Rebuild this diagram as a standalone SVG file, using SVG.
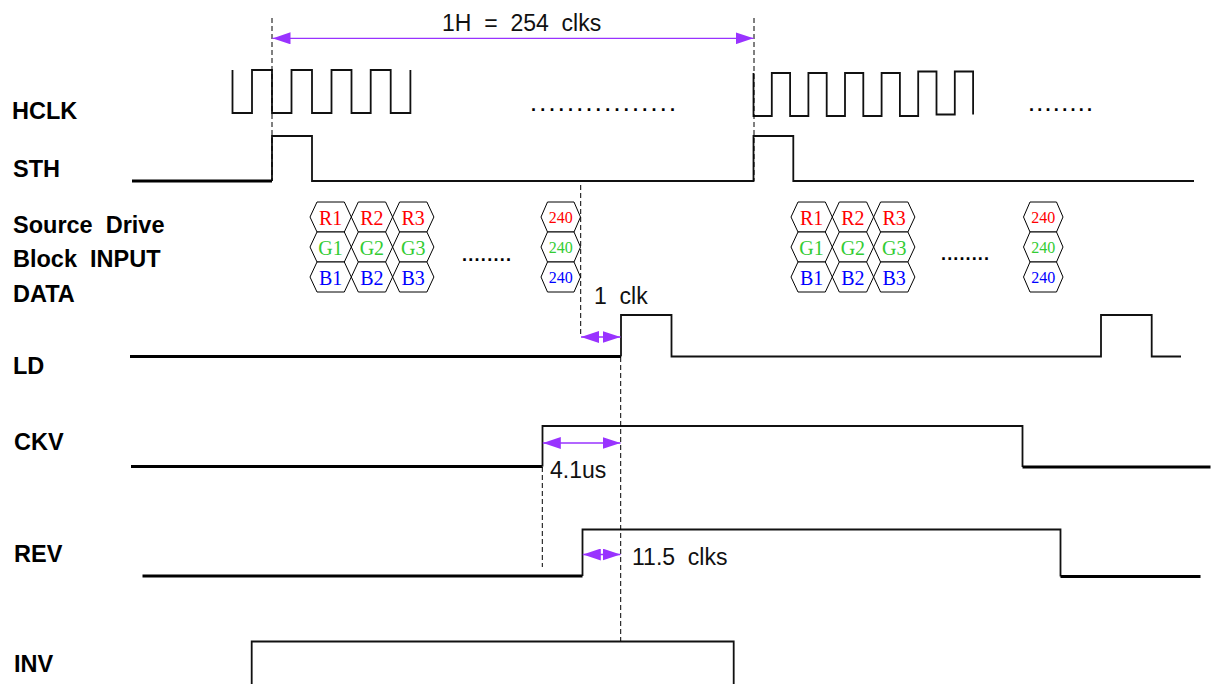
<svg xmlns="http://www.w3.org/2000/svg" width="1214" height="684" viewBox="0 0 1214 684">
<defs>
<style>
.lbl{font-family:"Liberation Sans",Arial,sans-serif;font-weight:bold;font-size:23.5px;fill:#000}
.ann{font-family:"Liberation Sans",Arial,sans-serif;font-size:23px;fill:#111}
.dots{font-family:"Liberation Sans",Arial,sans-serif;font-weight:bold;font-size:18px;fill:#000}
.w{fill:none;stroke:#111;stroke-width:1.8;stroke-linejoin:miter}
.wt{fill:none;stroke:#000;stroke-width:2.8}
.dash{fill:none;stroke:#000;stroke-width:1;stroke-dasharray:5 3}
.arr{fill:none;stroke:#9933ff;stroke-width:1.3;marker-start:url(#ah);marker-end:url(#ah)}
.hex{fill:#fff;stroke:#000;stroke-width:1}
.ht{font-family:"Liberation Serif","Times New Roman",serif;font-size:20px;text-anchor:middle}
.hs{font-family:"Liberation Serif","Times New Roman",serif;font-size:16px;text-anchor:middle}
.r{fill:#ff0000}.g{fill:#33cc33}.b{fill:#0000ff}
</style>
<marker id="ah" viewBox="0 0 18 12" refX="18" refY="6" markerWidth="18" markerHeight="12" markerUnits="userSpaceOnUse" orient="auto-start-reverse">
<path d="M0,0 L18,6 L0,12 z" fill="#9933ff"/>
</marker>
<polygon id="hx" points="0,15 7,0 34.3,0 41.3,15 34.3,30 7,30"/>
<polygon id="hxs" points="0,15 6.5,0 33,0 39.5,15 33,30 6.5,30"/>
</defs>

<g id="labels">
<text class="lbl" x="12" y="119">HCLK</text>
<text class="lbl" x="13" y="177">STH</text>
<text class="lbl" x="13" y="233" xml:space="preserve">Source  Drive</text>
<text class="lbl" x="13" y="267" xml:space="preserve">Block  INPUT</text>
<text class="lbl" x="13" y="302">DATA</text>
<text class="lbl" x="13" y="374">LD</text>
<text class="lbl" x="14" y="450">CKV</text>
<text class="lbl" x="14" y="562">REV</text>
<text class="lbl" x="14" y="672">INV</text>
</g>

<g id="hclk">
<path class="w" d="M232.5,70 V113 H252 V70 H272 V113 H291.5 V70 H312 V113 H331.5 V70 H351.5 V113 H370.7 V70 H390.7 V113 H410.4 V70"/>
<path class="w" d="M753.5,73 V116 H771.8 V73 H790.1 V116 H808.4 V73 H826.7 V116 H845 V73 H863.3 V116 H881.6 V73 H899.9 V116 H918.2 V71.5 H936.5 V114.5 H954.8 V71.5 H973.1 V114.5"/>
<text class="dots" x="531" y="110.5" textLength="144" lengthAdjust="spacing">................</text>
<text class="dots" x="1029" y="110.5" textLength="63" lengthAdjust="spacing">........</text>
</g>

<g id="sth">
<path class="wt" d="M132,181 H272"/>
<path class="w" d="M272,181 V136 H312 V181 H753.5 V136 H793.3 V181 H1194"/>
</g>

<g id="data1">
<use href="#hx" class="hex" x="310" y="202"/><use href="#hx" class="hex" x="351.3" y="202"/><use href="#hx" class="hex" x="392.6" y="202"/>
<use href="#hx" class="hex" x="310" y="232"/><use href="#hx" class="hex" x="351.3" y="232"/><use href="#hx" class="hex" x="392.6" y="232"/>
<use href="#hx" class="hex" x="310" y="262"/><use href="#hx" class="hex" x="351.3" y="262"/><use href="#hx" class="hex" x="392.6" y="262"/>
<text class="ht r" x="330.6" y="225">R1</text><text class="ht r" x="371.9" y="225">R2</text><text class="ht r" x="413.2" y="225">R3</text>
<text class="ht g" x="330.6" y="255">G1</text><text class="ht g" x="371.9" y="255">G2</text><text class="ht g" x="413.2" y="255">G3</text>
<text class="ht b" x="330.6" y="285">B1</text><text class="ht b" x="371.9" y="285">B2</text><text class="ht b" x="413.2" y="285">B3</text>
<text class="dots" x="462" y="261" textLength="49" lengthAdjust="spacing">........</text>
<use href="#hxs" class="hex" x="541" y="202"/><use href="#hxs" class="hex" x="541" y="232"/><use href="#hxs" class="hex" x="541" y="262"/>
<text class="hs r" x="560.7" y="222.5">240</text><text class="hs g" x="560.7" y="252.5">240</text><text class="hs b" x="560.7" y="282.5">240</text>
</g>

<g id="data2">
<use href="#hx" class="hex" x="791" y="202"/><use href="#hx" class="hex" x="832.3" y="202"/><use href="#hx" class="hex" x="873.6" y="202"/>
<use href="#hx" class="hex" x="791" y="232"/><use href="#hx" class="hex" x="832.3" y="232"/><use href="#hx" class="hex" x="873.6" y="232"/>
<use href="#hx" class="hex" x="791" y="262"/><use href="#hx" class="hex" x="832.3" y="262"/><use href="#hx" class="hex" x="873.6" y="262"/>
<text class="ht r" x="811.6" y="225">R1</text><text class="ht r" x="852.9" y="225">R2</text><text class="ht r" x="894.2" y="225">R3</text>
<text class="ht g" x="811.6" y="255">G1</text><text class="ht g" x="852.9" y="255">G2</text><text class="ht g" x="894.2" y="255">G3</text>
<text class="ht b" x="811.6" y="285">B1</text><text class="ht b" x="852.9" y="285">B2</text><text class="ht b" x="894.2" y="285">B3</text>
<text class="dots" x="941" y="260" textLength="48" lengthAdjust="spacing">........</text>
<use href="#hxs" class="hex" x="1023.5" y="202"/><use href="#hxs" class="hex" x="1023.5" y="232"/><use href="#hxs" class="hex" x="1023.5" y="262"/>
<text class="hs r" x="1043.2" y="222.5">240</text><text class="hs g" x="1043.2" y="252.5">240</text><text class="hs b" x="1043.2" y="282.5">240</text>
</g>

<g id="ld">
<path class="wt" d="M130,356.5 H621"/>
<path class="w" d="M621,356.5 V315 H671.5 V356.5 H1101 V315 H1151.7 V356.5 H1181"/>
</g>

<g id="ckv">
<path class="wt" d="M131,466.5 H542.5"/>
<path class="w" d="M542.5,466.5 V426 H1022.5 V467"/>
<path class="wt" d="M1022.5,467 H1210.5"/>
</g>

<g id="rev">
<path class="wt" d="M142.5,576 H582.5"/>
<path class="w" d="M582.5,576 V529.5 H1060.5 V576.5"/>
<path class="wt" d="M1060.5,576.5 H1200.5"/>
</g>

<g id="inv">
<path class="w" d="M251.7,684 V641.5 H733.7 V684"/>
</g>

<g id="connectors">
<path class="dash" d="M272,18 V181"/>
<path class="dash" d="M754,18 V181"/>
<path class="dash" d="M580.7,185 V337"/>
<path class="dash" d="M620.7,357 V641"/>
<path class="dash" d="M542.3,467 V567"/>
<path class="arr" d="M272.5,38.3 H753.5"/>
<path class="arr" d="M581,337 H620.5"/>
<path class="arr" d="M542.8,443 H620.5"/>
<path class="arr" d="M582.8,554.5 H620.5"/>
<text class="ann" x="442" y="31" xml:space="preserve">1H  =  254  clks</text>
<text class="ann" x="594" y="304" xml:space="preserve">1  clk</text>
<text class="ann" x="550" y="477.5">4.1us</text>
<text class="ann" x="632" y="565" xml:space="preserve">11.5  clks</text>
</g>
</svg>
